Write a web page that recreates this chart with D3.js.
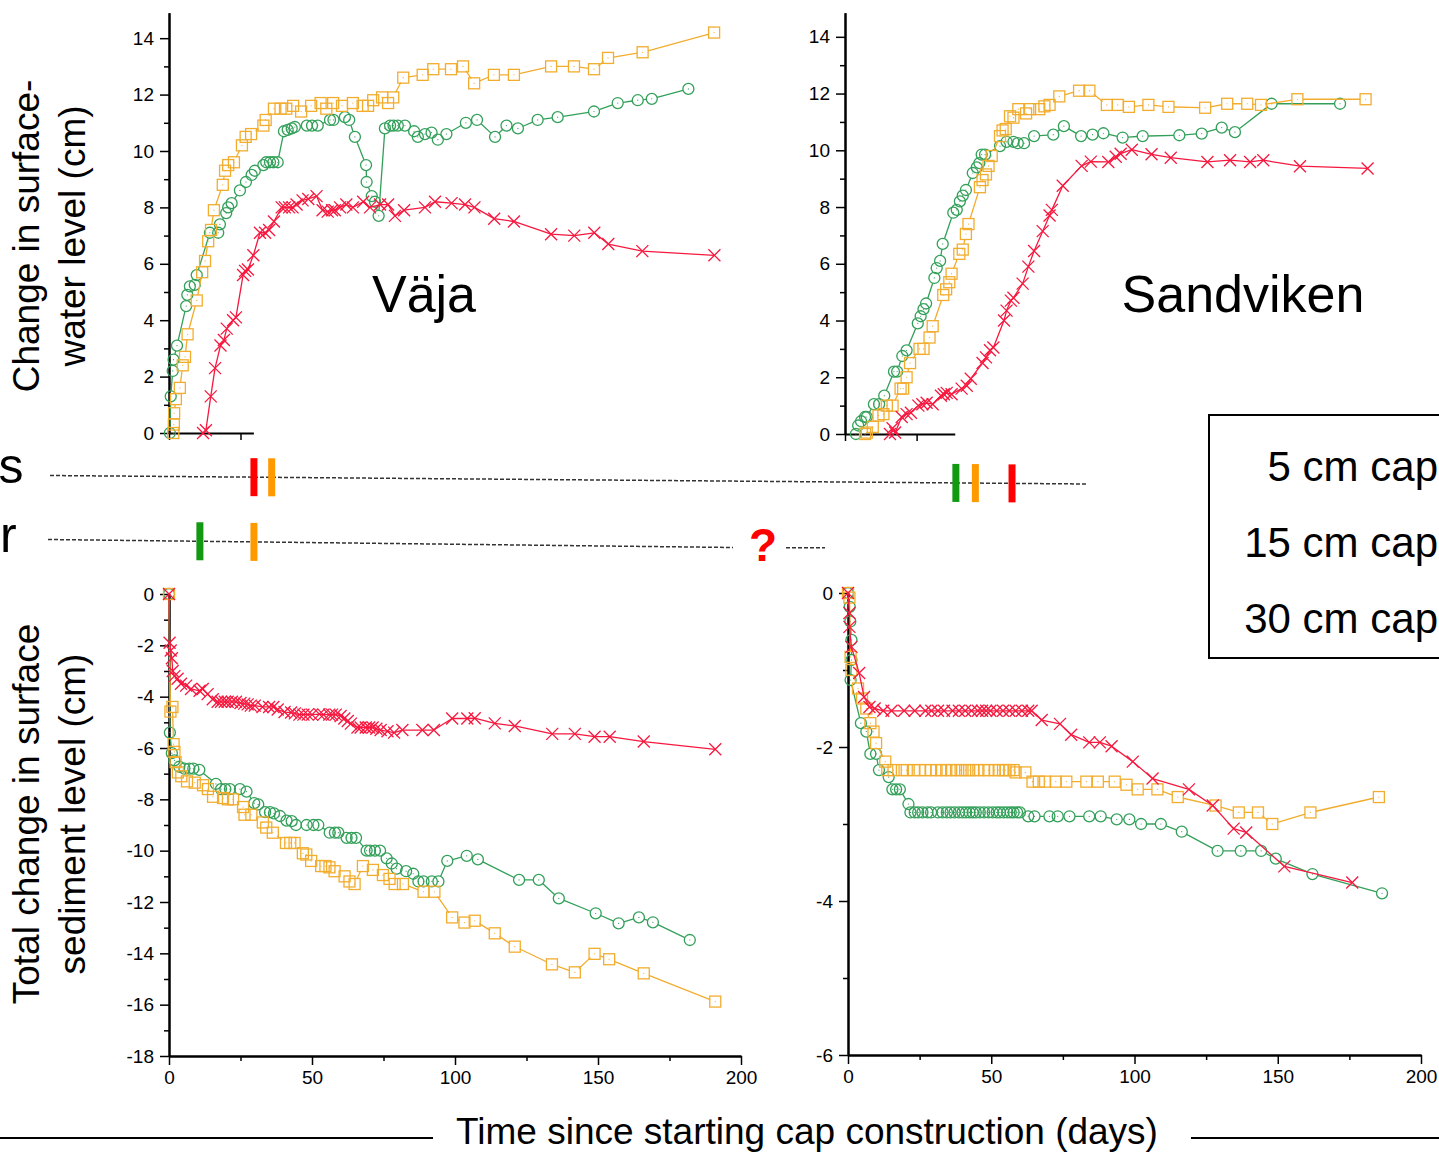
<!DOCTYPE html>
<html>
<head>
<meta charset="utf-8" />
<title>cap construction</title>
<script src="https://d3js.org/d3.v7.min.js"></script>
<style>
  body { margin: 0; background: #fff; }
  svg { display: block; font-family: "Liberation Sans", Arial, sans-serif; }
</style>
</head>
<body>
<script>
// caps: green circles, orange squares, red crosses
const capLabels = ["5 cm cap", "15 cm cap", "30 cm cap"];
const capColors = ["#33a05a", "#f2ad2f", "#f7183f"];
const capSymbols = ["circle", "square", "cross"];
const barColors = ["#119911", "#ff9900", "#ff0000"];

// Väja, change in surface-water level (days, cm)
const vajaWater5 = [[0.3,0],[0.6,1.3],[1.3,2.2],[1.6,2.6],[2.8,3.1],[6,4.5],[6.4,4.9],[7.3,5.2],[9,5.25],[9.7,5.6],[14.3,7.1],[17.2,7.1],[17.8,7.4],[20,7.8],[20.7,8.0],[21.9,8.15],[24.8,8.6],[26.9,8.9],[28.9,9.15],[30,9.3],[33,9.5],[34,9.6],[35.3,9.6],[36.5,9.6],[38,9.6],[40.2,10.7],[41.5,10.75],[42.9,10.8],[44,10.85],[48.2,10.9],[50,10.9],[52,10.9],[56.3,11.1],[57.5,11.1],[61.5,11.2],[63,11.1],[65,10.5],[68.9,9.5],[69.1,8.9],[70.9,8.4],[72,8.2],[73.3,7.7],[75.5,10.8],[77.3,10.9],[78.5,10.9],[80,10.9],[82.5,10.9],[85.7,10.7],[87,10.5],[89.5,10.6],[91.8,10.65],[94,10.4],[97,10.6],[103.8,11.0],[107.7,11.1],[114,10.5],[118,10.9],[122,10.8],[128.9,11.1],[135.9,11.2],[148.6,11.4],[156.9,11.7],[163.9,11.8],[168.8,11.85],[181.6,12.2]];
const vajaWater15 = [[1.5,0],[1.7,0.3],[1.8,0.7],[2.4,1.2],[3.8,1.6],[4.8,2.4],[5.6,2.7],[6.5,3.5],[9.7,4.7],[11.6,5.7],[12.6,6.1],[13.7,6.8],[14.7,7.2],[15.7,7.9],[18.8,8.8],[19.6,9.3],[20.7,9.5],[22.7,9.6],[25.5,10.2],[26.8,10.5],[28.7,10.6],[33,10.9],[33.8,11.1],[36.7,11.5],[39,11.5],[41,11.5],[43.4,11.6],[46.2,11.4],[49.7,11.6],[53,11.7],[55,11.5],[57.4,11.7],[60.5,11.6],[64.3,11.7],[67.7,11.6],[69.6,11.6],[71.4,11.8],[74.5,11.9],[76.6,11.7],[78.4,11.9],[81.9,12.6],[88.7,12.7],[92.4,12.9],[98.6,12.9],[102.8,13.0],[106.7,12.4],[113.6,12.7],[120.6,12.7],[133.6,13.0],[141.6,13.0],[148.6,12.9],[153.5,13.3],[165.6,13.5],[190.6,14.2]];
const vajaWater30 = [[11.9,0],[12.9,0.1],[14.6,1.3],[16.1,2.3],[18,3.1],[19.2,3.3],[20.2,3.7],[22.4,4.0],[23.4,4.1],[25.9,5.6],[26.6,5.75],[27.6,5.8],[29.5,6.3],[31.8,7.1],[33.6,7.1],[35,7.2],[36.7,7.5],[39.4,8.0],[40.5,8.0],[42,8.0],[43.2,8.0],[44.6,8.1],[46.7,8.25],[48.7,8.3],[51.6,8.4],[53.7,7.9],[55.5,7.85],[57,7.9],[58,7.9],[59.8,8.0],[62,8.1],[64.3,8.0],[67.9,8.2],[70.3,8.0],[73.8,8.1],[76.6,8.1],[79,7.7],[82.2,7.9],[89.5,8.0],[93,8.2],[98.8,8.15],[103.5,8.1],[106.8,8.0],[113.7,7.6],[120.6,7.5],[133.6,7.05],[141.7,7.0],[148.7,7.1],[153.6,6.7],[165.5,6.45],[190.7,6.3]];

// Sandviken, change in surface-water level
const sandWater5 = [[3.8,0],[4.6,0.3],[5.6,0.45],[7,0.6],[7.6,0.6],[10.1,1.05],[11.9,1.05],[13.7,1.35],[17.1,2.2],[18.2,2.2],[20,2.75],[21.5,2.95],[25.4,3.9],[26.4,4.15],[27.4,4.4],[28.3,4.6],[31.2,5.5],[32,5.85],[33.2,6.1],[34.1,6.7],[37.8,7.8],[39,7.9],[40.1,8.2],[41.1,8.4],[42.2,8.6],[44.6,9.2],[46,9.4],[46.9,9.55],[47.7,9.85],[48.9,9.85],[54.1,10.15],[56.4,10.3],[58.8,10.3],[60.3,10.25],[62.5,10.25],[66,10.5],[72.7,10.55],[76.4,10.85],[82.4,10.5],[86.4,10.55],[90.2,10.6],[96.9,10.45],[103.9,10.5],[116.7,10.53],[124.5,10.59],[131.5,10.8],[136.1,10.64],[148.9,11.64],[172.8,11.64]];
const sandWater15 = [[7,0],[7.6,0.05],[9.7,0.25],[11.7,0.65],[13.4,0.7],[14.6,1.0],[16.6,1.0],[19.4,1.6],[20.3,1.6],[21.5,2.0],[22.7,2.5],[26,3.0],[27.4,3.0],[29.5,3.4],[30.6,3.8],[34.3,4.9],[35.3,5.1],[36.4,5.35],[37.2,5.65],[39.9,6.35],[41.1,6.5],[42.2,7.05],[43.1,7.4],[47.1,8.7],[48,8.95],[49.2,9.15],[50.1,9.45],[51.2,9.8],[54.1,10.5],[55,10.7],[56.1,10.75],[57.6,11.2],[58.8,11.15],[60.5,11.45],[63.2,11.3],[64.6,11.45],[67.8,11.45],[69.6,11.55],[71.4,11.6],[74.8,11.9],[81.7,12.1],[85.3,12.1],[91.4,11.6],[95.2,11.6],[99.1,11.53],[105.9,11.6],[112.9,11.53],[125.7,11.5],[133.4,11.64],[140.4,11.64],[145.2,11.6],[157.9,11.8],[181.7,11.8]];
const sandWater30 = [[15.7,0],[16.6,0.2],[17.5,0.05],[19.8,0.6],[21.5,0.7],[23,0.75],[25.6,1.0],[27,1.05],[28.5,1.1],[30.6,1.05],[33.5,1.35],[34.5,1.4],[35.5,1.45],[37.2,1.4],[40.7,1.6],[42.5,1.7],[43.9,1.95],[48,2.5],[49.2,2.7],[50.6,2.95],[51.8,3.05],[55.5,4.0],[56.4,4.35],[57.9,4.7],[58.8,4.8],[62,5.3],[64,5.9],[66,6.45],[69,7.15],[71.4,7.7],[72.2,7.9],[76,8.75],[82.6,9.45],[85.8,9.6],[91.9,9.59],[94.5,9.77],[96.2,9.88],[100.1,10.02],[107,9.86],[113.7,9.74],[126.5,9.59],[134.4,9.65],[141.4,9.59],[146,9.65],[158.8,9.44],[182.4,9.36]];

// Väja, total change in surface sediment level
const vajaSed5 = [[0,0],[0.3,-5.4],[1.0,-6.2],[1.9,-6.48],[3.6,-6.73],[5.4,-6.8],[7.1,-6.8],[8.5,-6.8],[10.6,-6.85],[16.4,-7.4],[18.2,-7.6],[19.7,-7.6],[21.3,-7.6],[24.8,-7.6],[27.1,-7.7],[29.8,-8.15],[31.2,-8.2],[33.6,-8.5],[35.3,-8.5],[36.7,-8.55],[38.8,-8.65],[41.1,-8.83],[42.9,-8.85],[44.4,-9.0],[48.1,-9.0],[50.5,-9.0],[52.2,-9.0],[56.2,-9.3],[58,-9.3],[59.2,-9.3],[62.1,-9.5],[63.8,-9.5],[65.4,-9.5],[69.1,-10.0],[70.3,-10.0],[72,-10.0],[73.8,-10.0],[76.1,-10.3],[77.9,-10.5],[79.6,-10.7],[82.9,-10.8],[85.4,-10.9],[87.2,-11.2],[89,-11.2],[91.9,-11.2],[94.2,-11.2],[97.3,-10.4],[104.1,-10.2],[108,-10.34],[122.4,-11.14],[129.3,-11.14],[136.3,-11.86],[149.2,-12.44],[157.2,-12.83],[164.3,-12.6],[169.2,-12.79],[182.1,-13.48]];
const vajaSed15 = [[0,0],[0.5,-4.58],[1.2,-4.4],[1.6,-5.85],[1.9,-6.15],[2.3,-6.55],[3.1,-6.95],[4.3,-7.1],[6.3,-7.3],[9,-7.35],[11.9,-7.45],[13.6,-7.6],[15.4,-7.9],[18.9,-7.95],[20.6,-8.0],[22.4,-8.0],[25.9,-8.3],[26.4,-8.6],[28.8,-8.6],[32.8,-8.9],[34,-9.1],[36.3,-9.3],[40.9,-9.7],[42.4,-9.7],[43.9,-9.7],[46.8,-10.1],[48,-10.15],[49.7,-10.4],[53.2,-10.6],[54.7,-10.6],[56.1,-10.65],[57.9,-10.8],[61.4,-11.0],[63.1,-11.2],[64.9,-11.3],[67.8,-10.6],[71.3,-10.75],[74.8,-10.95],[77.1,-11.1],[78.9,-11.3],[81.8,-11.3],[89,-11.6],[92.8,-11.6],[99,-12.6],[103.3,-12.8],[106.9,-12.73],[113.9,-13.22],[120.9,-13.74],[133.9,-14.43],[141.9,-14.74],[148.8,-14.02],[153.9,-14.23],[166,-14.78],[191,-15.88]];
const vajaSed30 = [[0,0],[0.2,-1.9],[0.6,-2.2],[1.0,-2.5],[1.3,-3.0],[1.9,-3.2],[3,-3.3],[4.2,-3.5],[6,-3.57],[7.7,-3.7],[10.7,-3.77],[11.8,-3.7],[13.5,-3.9],[15.3,-4.1],[17,-4.2],[18.2,-4.2],[19.5,-4.2],[20.5,-4.2],[22,-4.2],[23.4,-4.2],[25,-4.25],[26.3,-4.27],[27.5,-4.3],[28.6,-4.35],[30,-4.35],[32.7,-4.4],[35,-4.4],[36.5,-4.4],[38,-4.5],[40.4,-4.6],[42.7,-4.62],[44,-4.65],[45.6,-4.7],[47,-4.7],[48.5,-4.7],[50,-4.7],[52.6,-4.68],[54,-4.7],[56,-4.7],[57,-4.7],[58.3,-4.7],[60,-4.75],[61.3,-4.85],[62.5,-4.95],[63.6,-5.05],[65.9,-5.2],[67,-5.2],[68.8,-5.2],[70,-5.2],[71.2,-5.2],[72.5,-5.25],[74,-5.3],[76.4,-5.35],[78.7,-5.4],[81.6,-5.3],[88.6,-5.3],[92.6,-5.3],[99,-4.85],[104.3,-4.85],[106.9,-4.84],[113.9,-5.04],[120.9,-5.14],[134,-5.45],[141.9,-5.45],[148.8,-5.56],[154.1,-5.56],[166,-5.75],[191,-6.05]];

// Sandviken, total change in surface sediment level
const sandSed5 = [[0,0],[0.6,-0.18],[0.8,-0.37],[1.2,-0.61],[1.2,-0.87],[0.9,-1.13],[4.5,-1.69],[6.4,-1.8],[7.8,-2.09],[9.8,-2.09],[10.8,-2.3],[14.2,-2.39],[15.5,-2.55],[16.8,-2.55],[18.1,-2.55],[21.1,-2.74],[21.8,-2.85],[23.3,-2.85],[24.5,-2.85],[26,-2.85],[27.7,-2.85],[29,-2.85],[31.4,-2.85],[33,-2.85],[34.5,-2.85],[35.8,-2.85],[37.2,-2.85],[38.7,-2.85],[40,-2.85],[41.2,-2.85],[42.4,-2.85],[43.5,-2.85],[44.6,-2.85],[46,-2.85],[47.5,-2.85],[49,-2.85],[50.5,-2.85],[51.9,-2.85],[53,-2.85],[54.3,-2.85],[55.6,-2.85],[56.8,-2.85],[57.8,-2.85],[59,-2.85],[60,-2.85],[62.9,-2.9],[65.1,-2.9],[70.3,-2.9],[73.2,-2.9],[77.3,-2.9],[84.2,-2.9],[88.2,-2.9],[93.8,-2.94],[98.2,-2.94],[102.3,-3.0],[109.2,-3.0],[116.5,-3.1],[129,-3.35],[137.1,-3.35],[144.2,-3.35],[149.3,-3.45],[162.1,-3.65],[186.4,-3.9]];
const sandSed15 = [[0,0],[0.5,-0.06],[0.9,-0.83],[1.2,-1.0],[3.5,-1.24],[4.9,-1.37],[6.4,-1.5],[7.8,-1.69],[8.9,-1.8],[9.8,-1.95],[13,-2.19],[13.7,-2.3],[15.9,-2.3],[18.8,-2.3],[20.5,-2.3],[23,-2.3],[25,-2.3],[27,-2.3],[29,-2.3],[30.9,-2.3],[32.5,-2.3],[34.3,-2.3],[36,-2.3],[37.7,-2.3],[39.3,-2.3],[40.9,-2.3],[42.3,-2.3],[43.8,-2.3],[45.5,-2.3],[47.5,-2.3],[49,-2.3],[51.2,-2.3],[52.6,-2.3],[54.1,-2.3],[55,-2.3],[56.3,-2.3],[57.8,-2.3],[58.5,-2.33],[61.9,-2.33],[64.4,-2.45],[66.6,-2.45],[68.8,-2.45],[72.5,-2.45],[76.2,-2.45],[83.2,-2.45],[87.2,-2.45],[93.1,-2.45],[97.2,-2.49],[101.1,-2.55],[108,-2.55],[115.1,-2.65],[128.3,-2.76],[136.4,-2.85],[143.1,-2.85],[148.1,-3.0],[161.4,-2.85],[185.3,-2.65]];
const sandSed30 = [[0,0],[0.5,-0.26],[0.5,-0.44],[1.2,-0.70],[3.9,-1.04],[5.6,-1.35],[7.5,-1.48],[9.3,-1.5],[12.3,-1.53],[15.2,-1.53],[19.6,-1.53],[23.3,-1.53],[27,-1.53],[29.1,-1.53],[31.4,-1.53],[33.5,-1.53],[36.5,-1.53],[38.7,-1.53],[40.9,-1.53],[43.1,-1.53],[45.3,-1.53],[46.8,-1.53],[48.2,-1.53],[49.7,-1.53],[51.9,-1.53],[54.1,-1.53],[56.3,-1.53],[58.5,-1.53],[60.7,-1.53],[62.9,-1.53],[64.1,-1.53],[67.6,-1.65],[74,-1.7],[77.9,-1.84],[84.2,-1.94],[87.9,-1.94],[92,-1.99],[99.4,-2.19],[106.3,-2.41],[119,-2.55],[127.3,-2.76],[134.6,-3.06],[139,-3.11],[152.3,-3.55],[176,-3.76]];

// milestone bars between the panels (day of event)
const sRowSites = ["Väja", "Väja", "Sandviken", "Sandviken", "Sandviken"];
const sRowCaps = [2, 1, 0, 1, 2];
const sRowDays = [29.7, 35.9, 38.7, 45.5, 58.3];
const rRowSites = ["Väja", "Väja"];
const rRowCaps = [0, 1];
const rRowDays = [10.8, 29.7];

const xMajor = [0, 50, 100, 150, 200];
const xMinor = [25, 75, 125, 175];

const width = 1439, height = 1152;
const svg = d3.select("body").append("svg")
  .attr("width", width).attr("height", height);

// panel scales
const panels = [
  { site: "Väja", series: [vajaWater5, vajaWater15, vajaWater30],
    x: d3.scaleLinear().domain([0, 200]).range([169, 741]),
    y: d3.scaleLinear().domain([0, 14.9]).range([433, 12.8]),
    yMajor: d3.range(0, 15, 2), yMinor: d3.range(1, 15, 2), xStub: 29.5 },
  { site: "Sandviken", series: [sandWater5, sandWater15, sandWater30],
    x: d3.scaleLinear().domain([0, 200]).range([845, 1418]),
    y: d3.scaleLinear().domain([0, 14.85]).range([434, 12.7]),
    yMajor: d3.range(0, 15, 2), yMinor: d3.range(1, 15, 2), xStub: 38.3 },
  { site: "Väja", series: [vajaSed5, vajaSed15, vajaSed30],
    x: d3.scaleLinear().domain([0, 200]).range([169, 741]),
    y: d3.scaleLinear().domain([-18, 0]).range([1056, 594]),
    yMajor: d3.range(-18, 1, 2), yMinor: d3.range(-17, 0, 2) },
  { site: "Sandviken", series: [sandSed5, sandSed15, sandSed30],
    x: d3.scaleLinear().domain([0, 200]).range([848, 1421]),
    y: d3.scaleLinear().domain([-6, 0]).range([1055, 593]),
    yMajor: [-6, -4, -2, 0], yMinor: [-5, -3, -1] }
];

function styleAxis(g) {
  g.select(".domain").attr("stroke", "#000").attr("stroke-width", 2);
  g.selectAll(".tick line").attr("stroke", "#000").attr("stroke-width", 1.5);
  g.selectAll(".tick text").attr("fill", "#000")
    .style("font-size", "19px").style("font-family", "Liberation Sans, Arial, sans-serif");
}

function drawSeries(g, pts, x, y, cap) {
  const color = capColors[cap];
  const sym = capSymbols[cap];
  const p = pts.map(d => [x(d[0]), y(d[1])]);
  const gap = sym === "cross" ? 0 : 5.5;
  // connecting line, with a gap at hollow symbols
  let path = "";
  for (let i = 1; i < p.length; i++) {
    const [x0, y0] = p[i - 1], [x1, y1] = p[i];
    const len = Math.hypot(x1 - x0, y1 - y0);
    if (len <= 2 * gap + 0.5) continue;
    const ux = (x1 - x0) / len, uy = (y1 - y0) / len;
    path += `M${x0 + ux * gap},${y0 + uy * gap}L${x1 - ux * gap},${y1 - uy * gap}`;
  }
  g.append("path").attr("d", path).attr("fill", "none")
    .attr("stroke", color).attr("stroke-width", 1.3);

  const m = g.append("g").attr("stroke", color).attr("fill", "none").attr("stroke-width", 1.3);
  p.forEach(([cx, cy]) => {
    if (sym === "circle") {
      m.append("circle").attr("cx", cx).attr("cy", cy).attr("r", 5.5);
    } else if (sym === "square") {
      m.append("rect").attr("x", cx - 5.5).attr("y", cy - 5.5).attr("width", 11).attr("height", 11);
    } else {
      m.append("path").attr("d", `M${cx - 6},${cy - 6}L${cx + 6},${cy + 6}M${cx - 6},${cy + 6}L${cx + 6},${cy - 6}`);
    }
    if (sym !== "cross") {
      m.append("circle").attr("cx", cx).attr("cy", cy).attr("r", 0.6)
        .attr("fill", color).attr("stroke", "none");
    }
  });
}

panels.forEach(pn => {
  const g = svg.append("g");
  const x0 = pn.x.range()[0], y0 = pn.y.range()[0];

  // y axis: minor then major
  g.append("g").attr("transform", `translate(${x0},0)`)
    .call(d3.axisLeft(pn.y).tickValues(pn.yMinor).tickSize(5).tickFormat("").tickSizeOuter(0))
    .call(styleAxis);
  g.append("g").attr("transform", `translate(${x0},0)`)
    .call(d3.axisLeft(pn.y).tickValues(pn.yMajor).tickSize(9).tickPadding(6)
      .tickSizeOuter(0).tickFormat(d => String(d)))
    .call(styleAxis);

  if (pn.xStub) {
    // only the first stretch of the x axis shows on the upper panels
    const stub = pn.x.copy().domain([0, pn.xStub])
      .range([pn.x(0), pn.x(pn.xStub)]);
    g.append("g").attr("transform", `translate(0,${y0})`)
      .call(d3.axisBottom(stub).tickValues([0, 25]).tickSize(7).tickFormat("").tickSizeOuter(0))
      .call(styleAxis);
  } else {
    g.append("g").attr("transform", `translate(0,${y0})`)
      .call(d3.axisBottom(pn.x).tickValues(xMinor).tickSize(5).tickFormat("").tickSizeOuter(0))
      .call(styleAxis);
    g.append("g").attr("transform", `translate(0,${y0})`)
      .call(d3.axisBottom(pn.x).tickValues(xMajor).tickSize(9).tickPadding(6)
        .tickSizeOuter(0).tickFormat(d => String(d)))
      .call(styleAxis);
  }

  pn.series.forEach((s, i) => drawSeries(g, s, pn.x, pn.y, i));
});

// site names
svg.append("text").attr("x", 424).attr("y", 312).attr("text-anchor", "middle")
  .style("font-size", "52px").text("Väja");
svg.append("text").attr("x", 1243).attr("y", 312).attr("text-anchor", "middle")
  .style("font-size", "52px").text("Sandviken");

// y axis titles
const yTitles = [
  { lines: ["Change in surface-", "water level (cm)"], cy: 236 },
  { lines: ["Total change in surface", "sediment level (cm)"], cy: 814 }
];
yTitles.forEach(t => {
  t.lines.forEach((line, i) => {
    const bx = i === 0 ? 38.5 : 85;
    svg.append("text")
      .attr("transform", `translate(${bx},${t.cy}) rotate(-90)`)
      .attr("text-anchor", "middle")
      .style("font-size", "37px")
      .text(line);
  });
});

// x axis title with rules on either side
svg.append("text").attr("x", 807).attr("y", 1144).attr("text-anchor", "middle")
  .style("font-size", "37px").text("Time since starting cap construction (days)");
svg.append("line").attr("x1", 0).attr("x2", 433).attr("y1", 1138).attr("y2", 1138)
  .attr("stroke", "#000").attr("stroke-width", 2);
svg.append("line").attr("x1", 1191).attr("x2", width).attr("y1", 1138).attr("y2", 1138)
  .attr("stroke", "#000").attr("stroke-width", 2);

// legend box (runs off the right edge)
svg.append("rect").attr("x", 1209).attr("y", 415).attr("width", 300).attr("height", 243)
  .attr("fill", "#fff").attr("stroke", "#000").attr("stroke-width", 2);
capLabels.forEach((lab, i) => {
  svg.append("text").attr("x", 1438).attr("y", 481 + i * 76)
    .attr("text-anchor", "end").style("font-size", "42px").text(lab);
});

// milestone rows
const siteX = { "Väja": panels[0].x, "Sandviken": panels[1].x };
const dash = g => g.attr("stroke", "#333").attr("stroke-width", 1.5).attr("stroke-dasharray", "4,2");

// row labels sit against the left edge
svg.append("text").attr("x", -1.5).attr("y", 483)
  .style("font-size", "50px").text("s");
svg.append("text").attr("x", 0).attr("y", 552)
  .style("font-size", "50px").text("r");

const sLine = { x1: 50, y1: 475.5, x2: 1087, y2: 484 };
svg.append("line").attr("x1", sLine.x1).attr("y1", sLine.y1)
  .attr("x2", sLine.x2).attr("y2", sLine.y2).call(dash);
const rLine = { x1: 48, y1: 539.5, x2: 733, y2: 547.5 };
svg.append("line").attr("x1", rLine.x1).attr("y1", rLine.y1)
  .attr("x2", rLine.x2).attr("y2", rLine.y2).call(dash);
svg.append("line").attr("x1", 786).attr("y1", 547.7).attr("x2", 825).attr("y2", 547.7).call(dash);
svg.append("text").attr("x", 763).attr("y", 561).attr("text-anchor", "middle")
  .attr("fill", "#ff0000").style("font-size", "46px").style("font-weight", "bold").text("?");

function rowBars(sites, caps, days, ln) {
  const yAt = d3.scaleLinear().domain([ln.x1, ln.x2]).range([ln.y1, ln.y2]);
  days.forEach((d, i) => {
    const bx = siteX[sites[i]](d);
    svg.append("rect").attr("x", bx - 3.5).attr("y", yAt(bx) - 19)
      .attr("width", 7).attr("height", 38).attr("fill", barColors[caps[i]]);
  });
}
rowBars(sRowSites, sRowCaps, sRowDays, sLine);
rowBars(rRowSites, rRowCaps, rRowDays, rLine);
</script>
</body>
</html>
